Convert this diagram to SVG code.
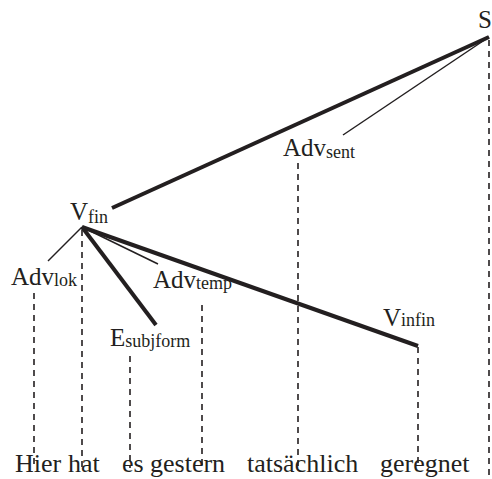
<svg xmlns="http://www.w3.org/2000/svg" width="492" height="479" viewBox="0 0 492 479">
<style>
.lb{font-size:25px}
.sub{font-size:18px}
.w{font-size:26px}
.thick{stroke:#231f20;stroke-width:4;fill:none}
.thin{stroke:#231f20;stroke-width:1.5;fill:none}
.dash{stroke:#231f20;stroke-width:1.6;stroke-dasharray:6 5;fill:none}
</style>
<rect width="492" height="479" fill="#fff"/>
<g id="connectors">
<line class="thick" x1="489" y1="37" x2="112" y2="208"/>
<line class="thin" x1="489" y1="37" x2="343" y2="135"/>
<line class="thin" x1="82" y1="227" x2="48" y2="261"/>
<line class="thin" x1="82" y1="227" x2="158" y2="264"/>
<line class="thick" x1="82" y1="227" x2="156" y2="325"/>
<line class="thick" x1="82" y1="227" x2="418" y2="346"/>
<line class="dash" x1="489" y1="40" x2="489" y2="475"/>
<line class="dash" x1="298" y1="163" x2="298" y2="468"/>
<line class="dash" x1="82" y1="230" x2="82" y2="468"/>
<line class="dash" x1="34" y1="293" x2="34" y2="468"/>
<line class="dash" x1="202" y1="305" x2="202" y2="468"/>
<line class="dash" x1="130" y1="356" x2="130" y2="468"/>
<line class="dash" x1="418" y1="347" x2="418" y2="468"/>
</g>
<g font-family="Liberation Serif, Times New Roman, DejaVu Serif, serif" fill="#231f20">
<g id="S"><text class="lb" x="478" y="28">S</text></g>
<g id="Adv_sent"><text class="lb" x="283" y="156">Adv<tspan class="sub" dy="2">sent</tspan></text></g>
<g id="V_fin"><text class="lb" x="70" y="220">V<tspan class="sub" dy="3">fin</tspan></text></g>
<g id="Adv_lok"><text class="lb" x="11" y="285">Adv<tspan class="sub" dy="1">lok</tspan></text></g>
<g id="Adv_temp"><text class="lb" x="153" y="288">Adv<tspan class="sub" dy="1">temp</tspan></text></g>
<g id="E_subjform"><text class="lb" x="110" y="346">E<tspan class="sub" dy="1">subjform</tspan></text></g>
<g id="V_infin"><text class="lb" x="383" y="326">V<tspan class="sub" dy="0">infin</tspan></text></g>
<g id="sentence">
<text class="w" x="15" y="472">Hier</text>
<text class="w" x="68" y="472">hat</text>
<text class="w" x="122" y="472">es</text>
<text class="w" x="150" y="472">gestern</text>
<text class="w" x="247" y="472">tatsächlich</text>
<text class="w" x="380" y="472">geregnet</text>
</g>
</g>
</svg>
